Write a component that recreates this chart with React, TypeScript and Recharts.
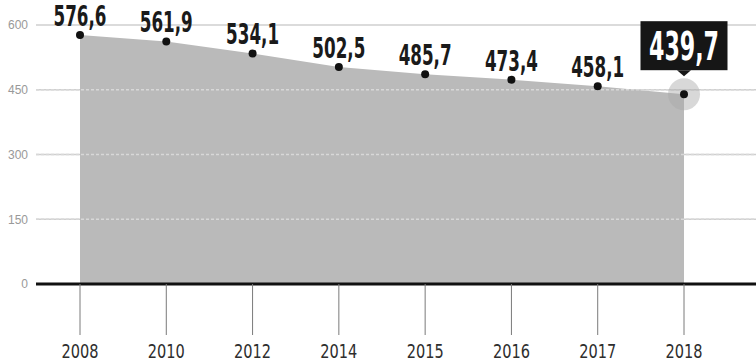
import { Area, AreaChart, CartesianGrid, LabelList, ReferenceLine, XAxis, YAxis } from "recharts";

const years = ["2008", "2010", "2012", "2014", "2015", "2016", "2017", "2018"];
const values = [576.6, 561.9, 534.1, 502.5, 485.7, 473.4, 458.1, 439.7];
const yTicks = [0, 150, 300, 450, 600];
const innerGridLines = [150, 300, 450];

const data = years.map((year, i) => ({ year, value: values[i] }));

const NARROW = "'Liberation Sans Narrow', 'DejaVu Sans Condensed', 'Arial Narrow', sans-serif";
const LAST = values.length - 1;

const formatValue = (v: number) => v.toFixed(1).replace(".", ",");

const renderDot = (props: any) => {
  const { cx, cy, index } = props;
  return (
    <g key={`dot-${index}`}>
      {index === LAST && <circle cx={cx} cy={cy} r={16} fill="#a8a8a8" fillOpacity={0.45} />}
      <circle cx={cx} cy={cy} r={4} fill="#111" />
    </g>
  );
};

const renderLabel = (props: any) => {
  const { x, y, value } = props;
  const index = props.index ?? values.indexOf(Number(value));
  const text = formatValue(Number(value));

  if (index === LAST) {
    // highlighted latest value: black box with a small pointer
    const w = 87;
    const h = 49;
    const bottom = y - 24;
    return (
      <g key={`label-${index}`}>
        <rect x={x - w / 2} y={bottom - h} width={w} height={h} fill="#161616" />
        <path d={`M${x - 7},${bottom} L${x + 7},${bottom} L${x},${bottom + 6} Z`} fill="#161616" />
        <text
          transform={`translate(${x},${bottom - 10}) scale(1,1.35)`}
          x={0}
          y={0}
          textAnchor="middle"
          fill="#fff"
          fontFamily={NARROW}
          fontWeight="bold"
          fontSize={29}
          textLength={70}
          lengthAdjust="spacingAndGlyphs"
        >
          {text}
        </text>
      </g>
    );
  }

  return (
    <text
      key={`label-${index}`}
      x={x}
      y={y - 9}
      textAnchor="middle"
      fill="#1a1a1a"
      fontFamily={NARROW}
      fontWeight="bold"
      fontSize={28}
      textLength={53}
      lengthAdjust="spacingAndGlyphs"
    >
      {text}
    </text>
  );
};

const YearTick = (props: any) => {
  const { x, y, payload } = props;
  return (
    <text
      x={x}
      y={y + 15}
      textAnchor="middle"
      fill="#2e2e2e"
      fontFamily={NARROW}
      fontSize={20}
      textLength={37}
      lengthAdjust="spacingAndGlyphs"
    >
      {payload.value}
    </text>
  );
};

export default function App() {
  return (
    <div style={{ position: "absolute", left: 0, top: 0, background: "#fff" }}>
      <AreaChart width={756} height={362} data={data} margin={{ top: 25, right: 0, bottom: 0, left: 0 }}>
        <CartesianGrid vertical={false} stroke="#cfcfcf" strokeWidth={1.5} />
        <XAxis
          dataKey="year"
          interval={0}
          padding={{ left: 44, right: 72 }}
          height={78}
          tickSize={51}
          tickMargin={8}
          tickLine={{ stroke: "#7a7a7a", strokeWidth: 1 }}
          axisLine={{ stroke: "#111", strokeWidth: 3 }}
          tick={<YearTick />}
        />
        <YAxis
          domain={[0, 600]}
          ticks={yTicks}
          width={36}
          axisLine={false}
          tickLine={false}
          tick={{ fill: "#999", fontSize: 12, fontFamily: "'Liberation Sans', sans-serif" }}
        />
        <Area
          type="linear"
          dataKey="value"
          stroke="none"
          fill="#bababa"
          fillOpacity={1}
          dot={renderDot}
          activeDot={false}
          isAnimationActive={false}
        >
          <LabelList dataKey="value" content={renderLabel} />
        </Area>
        {innerGridLines.map((v) => (
          <ReferenceLine key={v} y={v} stroke="#d8d8d8" strokeWidth={1.5} strokeDasharray="3 2" />
        ))}
      </AreaChart>
    </div>
  );
}
